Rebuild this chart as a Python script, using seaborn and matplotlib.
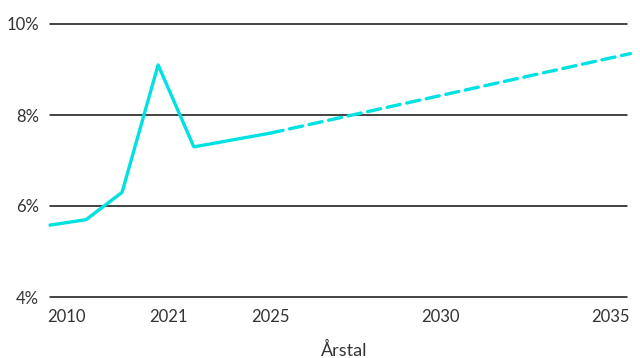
import matplotlib
matplotlib.use("Agg")
import matplotlib.pyplot as plt
import seaborn as sns
import pandas as pd

# Historical series (solid) and projection (dashed); x in fractional years
hist_x = [2018.53, 2019.59, 2020.65, 2021.71, 2022.76, 2025.0]
hist_y = [5.58, 5.70, 6.30, 9.10, 7.30, 7.60]
proj_x = [2025.0, 2035.6]
proj_y = [7.60, 9.35]

tick_pos = [2019, 2022, 2025, 2030, 2035]
tick_labels = ["2010", "2021", "2025", "2030", "2035"]
y_ticks = [4, 6, 8, 10]
y_labels = ["4%", "6%", "8%", "10%"]

LINE = "#00E1E1"
TEXT = "#333333"

sns.set_theme(style="white")
plt.rcParams["font.family"] = ["Lato", "DejaVu Sans"]

fig = plt.figure(figsize=(6.4, 3.58), dpi=100)
ax = fig.add_axes([50 / 640, 61 / 358, 577 / 640, 273 / 358])

hist = pd.DataFrame({"year": hist_x, "value": hist_y})
proj = pd.DataFrame({"year": proj_x, "value": proj_y})

sns.lineplot(data=hist, x="year", y="value", ax=ax, color=LINE,
             linewidth=2.4, solid_capstyle="round", clip_on=False, zorder=3)
sns.lineplot(data=proj, x="year", y="value", ax=ax, color=LINE,
             linewidth=2.4, dashes=False, clip_on=False, zorder=3,
             linestyle=(0, (4.0, 2.0)), dash_capstyle="round")

ax.set_xlim(2018.53, 2035.5)
ax.set_ylim(4, 10)

ax.set_yticks(y_ticks)
ax.set_yticklabels(y_labels)
ax.set_xticks(tick_pos)
ax.set_xticklabels(tick_labels)

for v in y_ticks:
    ax.axhline(v, color="#111111", linewidth=1.1, zorder=1, clip_on=False)

for s in ax.spines.values():
    s.set_visible(False)
ax.grid(False)

ax.tick_params(axis="both", length=0, colors=TEXT, labelsize=12)
ax.tick_params(axis="y", pad=8)
ax.tick_params(axis="x", pad=9)
ax.set_ylabel("")
ax.set_xlabel("Årstal", color=TEXT, fontsize=13, labelpad=10)
ax.xaxis.set_label_coords(0.51, -0.165)

fig.savefig("out.png", dpi=100)
